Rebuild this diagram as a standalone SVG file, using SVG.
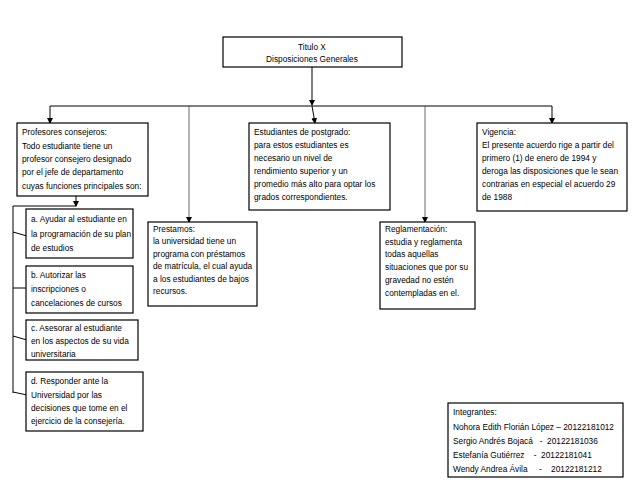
<svg xmlns="http://www.w3.org/2000/svg" width="638" height="493" viewBox="0 0 638 493">
<style>
.box{fill:#fff;stroke:#000;stroke-width:1.2}
.t{font-family:"Liberation Sans",Arial,sans-serif;font-size:8.3px;fill:#000}
.c{fill:none;stroke:#000;stroke-width:1}
.g{fill:none;stroke:#444;stroke-width:0.8}
</style>
<defs>
<marker id="ar" markerWidth="6" markerHeight="6" refX="5" refY="3" orient="auto" markerUnits="userSpaceOnUse">
<path d="M0,0 L6,3 L0,6 Z" fill="#000"/>
</marker>
</defs>
<rect width="638" height="493" fill="#fff"/>
<g id="connectors">
<line class="c" x1="312" y1="67" x2="312" y2="105" marker-end="url(#ar)"/>
<line class="c" x1="50" y1="106" x2="552" y2="106"/>
<line class="c" x1="312" y1="106" x2="315" y2="123" marker-end="url(#ar)"/>
<line class="c" x1="50" y1="106" x2="50" y2="123" marker-end="url(#ar)"/>
<line class="c" x1="552" y1="106" x2="552" y2="123" marker-end="url(#ar)"/>
<line class="g" x1="189" y1="106" x2="189" y2="222" marker-end="url(#ar)"/>
<line class="g" x1="425" y1="106" x2="425" y2="222" marker-end="url(#ar)"/>
<line class="c" x1="76" y1="196" x2="76" y2="206" marker-end="url(#ar)"/>
<polyline class="c" points="76,206 13,206 13,393"/>
<line class="c" x1="13" y1="232" x2="27" y2="236"/>
<line class="c" x1="13" y1="288" x2="26" y2="288"/>
<line class="c" x1="13" y1="336" x2="27" y2="340"/>
<line class="c" x1="13" y1="392" x2="27" y2="395"/>
</g>
<g id="titulo">
<rect class="box" x="223" y="37" width="179" height="30"/>
<text class="t" x="312" y="50" text-anchor="middle">Titulo X</text>
<text class="t" x="312" y="62" text-anchor="middle">Disposiciones Generales</text>
</g>
<g id="profesores">
<rect class="box" x="17" y="123" width="131" height="73"/>
<text class="t" x="22" y="135">Profesores consejeros:</text>
<text class="t" x="22" y="149">Todo estudiante tiene un</text>
<text class="t" x="22" y="162">profesor consejero designado</text>
<text class="t" x="22" y="175">por el jefe de departamento</text>
<text class="t" x="22" y="189">cuyas funciones principales son:</text>
</g>
<g id="postgrado">
<rect class="box" x="249" y="123" width="141" height="87"/>
<text class="t" x="254" y="135">Estudiantes de postgrado:</text>
<text class="t" x="254" y="148">para estos estudiantes es</text>
<text class="t" x="254" y="161">necesario un nivel de</text>
<text class="t" x="254" y="174">rendimiento superior y un</text>
<text class="t" x="254" y="187">promedio más alto para optar los</text>
<text class="t" x="254" y="200">grados correspondientes.</text>
</g>
<g id="vigencia">
<rect class="box" x="477" y="123" width="150" height="88"/>
<text class="t" x="482" y="135">Vigencia:</text>
<text class="t" x="482" y="148">El presente acuerdo rige a partir del</text>
<text class="t" x="482" y="161">primero (1) de enero de 1994 y</text>
<text class="t" x="482" y="174">deroga las disposiciones que le sean</text>
<text class="t" x="482" y="187">contrarias en especial el acuerdo 29</text>
<text class="t" x="482" y="200">de 1988</text>
</g>
<g id="a">
<rect class="box" x="26" y="209" width="107" height="49"/>
<text class="t" x="31" y="222">a. Ayudar al estudiante en</text>
<text class="t" x="31" y="237">la programación de su plan</text>
<text class="t" x="31" y="251">de estudios</text>
</g>
<g id="b">
<rect class="box" x="26" y="266" width="107" height="47"/>
<text class="t" x="31" y="278">b. Autorizar las</text>
<text class="t" x="31" y="292">inscripciones o</text>
<text class="t" x="31" y="306">cancelaciones de cursos</text>
</g>
<g id="c">
<rect class="box" x="26" y="320" width="112" height="40"/>
<text class="t" x="31" y="331">c. Asesorar al estudiante</text>
<text class="t" x="31" y="344">en los aspectos de su vida</text>
<text class="t" x="31" y="357">universitaria</text>
</g>
<g id="d">
<rect class="box" x="26" y="372" width="117" height="59"/>
<text class="t" x="31" y="384">d. Responder ante la</text>
<text class="t" x="31" y="398">Universidad por las</text>
<text class="t" x="31" y="411">decisiones que tome en el</text>
<text class="t" x="31" y="424">ejercicio de la consejería.</text>
</g>
<g id="prestamos">
<rect class="box" x="148" y="222" width="109" height="84"/>
<text class="t" x="153" y="232">Prestamos:</text>
<text class="t" x="153" y="244">la universidad tiene un</text>
<text class="t" x="153" y="257">programa con préstamos</text>
<text class="t" x="153" y="269">de matrícula, el cual ayuda</text>
<text class="t" x="153" y="282">a los estudiantes de bajos</text>
<text class="t" x="153" y="294">recursos.</text>
</g>
<g id="reglamentacion">
<rect class="box" x="380" y="222" width="95" height="87"/>
<text class="t" x="385" y="232">Reglamentación:</text>
<text class="t" x="385" y="245">estudia y reglamenta</text>
<text class="t" x="385" y="257">todas aquellas</text>
<text class="t" x="385" y="270">situaciones que por su</text>
<text class="t" x="385" y="283">gravedad no estén</text>
<text class="t" x="385" y="296">contempladas en el.</text>
</g>
<g id="integrantes">
<rect class="box" x="448" y="403" width="175" height="74"/>
<text class="t" x="453" y="415">Integrantes:</text>
<text class="t" x="453" y="430">Nohora Edith Florián López – 20122181012</text>
<text class="t" x="453" y="444" xml:space="preserve">Sergio Andrés Bojacá   -  20122181036</text>
<text class="t" x="453" y="458" xml:space="preserve">Estefanía Gutiérrez    -  20122181041</text>
<text class="t" x="453" y="472" xml:space="preserve">Wendy Andrea Ávila     -    20122181212</text>
</g>
</svg>
